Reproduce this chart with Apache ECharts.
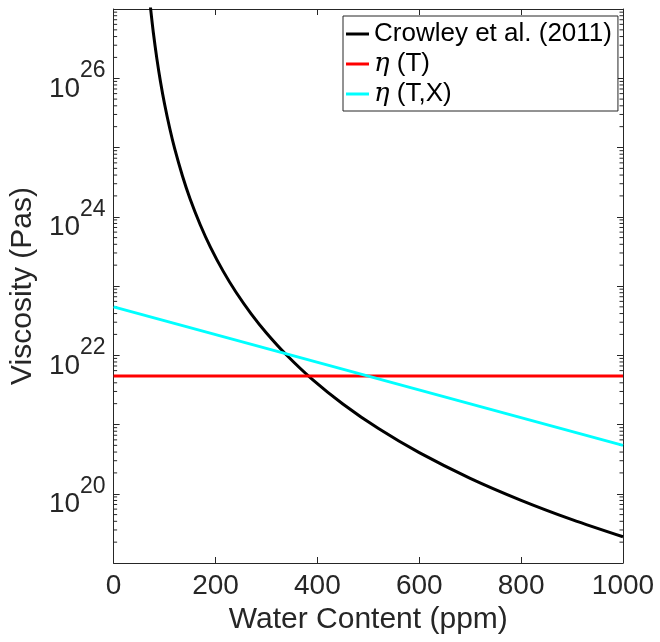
<!DOCTYPE html>
<html>
<head>
<meta charset="utf-8">
<script src="https://cdn.jsdelivr.net/npm/echarts@6/dist/echarts.min.js"></script>
<style>
html,body{margin:0;padding:0;background:#fff;}
#chart{width:660px;height:642px;}
</style>
</head>
<body>
<div id="chart"></div>
<script>
// Water content (ppm) sample positions for the Crowley et al. (2011) curve
var crowleyWater = [72, 78, 85, 92, 100, 110, 120, 135, 150, 170, 190, 215, 240, 270, 300, 340, 390, 450, 520, 600, 700, 800, 900, 1000];
// Viscosity (Pa s)
var crowleyVisc = [1.11e27, 4.54e26, 1.89e26, 8.91e25, 4.24e25, 1.91e25, 9.53e24, 3.91e24, 1.82e24, 7.67e23, 3.65e23, 1.64e23, 8.2e22, 3.97e22, 2.1e22, 1.0e22, 4.49e21, 1.98e21, 8.73e20, 3.92e20, 1.67e20, 8.04e19, 4.23e19, 2.39e19];

var etaTWater = [0, 1000];
var etaTVisc = [5e21, 5e21];

var etaTXWater = [0, 1000];
var etaTXVisc = [5e22, 5e20];

var seriesNames = ['Crowley et al. (2011)', 'η (T)', 'η (T,X)'];
var seriesColors = ['#000000', '#ff0000', '#00ffff'];
var xTicks = [0, 200, 400, 600, 800, 1000];
var yLabelExponents = [20, 22, 24, 26];

var axisColor = '#262626';
var fontFam = '"Liberation Sans", Arial, Helvetica, sans-serif';

// minor tick values on the log axis (2..9 x 10^n)
var minorVals = [];
for (var e = 19; e < 27; e++) {
  for (var k = 2; k <= 9; k++) minorVals.push(k * Math.pow(10, e));
}

function pairs(xs, ys) { return xs.map(function (x, i) { return [x, ys[i]]; }); }

var chart = echarts.init(document.getElementById('chart'), null, {renderer: 'canvas'});

var lineIcon = 'path://M0,0L23,0L23,3L0,3Z';

var option = {
  backgroundColor: '#ffffff',
  animation: false,
  grid: {left: 111, right: 37, top: 9, bottom: 79, containLabel: false},
  legend: {
    data: seriesNames.map(function (n) { return {name: n, icon: lineIcon}; }),
    orient: 'vertical',
    left: 343,
    top: 16,
    width: 274,
    padding: [3, 6, 2, 3],
    itemGap: 0,
    itemWidth: 23,
    itemHeight: 3,
    borderColor: axisColor,
    borderWidth: 1,
    borderRadius: 0,
    backgroundColor: '#ffffff',
    textStyle: {
      fontFamily: fontFam,
      fontSize: 26,
      color: '#000',
      lineHeight: 30,
      rich: {
        i: {fontFamily: '"DejaVu Serif", "Liberation Serif", serif', fontStyle: 'italic', fontSize: 26, lineHeight: 30, color: '#000'},
        t: {fontFamily: fontFam, fontSize: 26, lineHeight: 30, color: '#000'}
      }
    },
    formatter: function (name) {
      if (name.charAt(0) === 'η') return '{i|η}{t|' + name.slice(1) + '}';
      return name;
    }
  },
  xAxis: [{
    type: 'value',
    min: 0, max: 1000, interval: 200,
    name: 'Water Content (ppm)',
    nameLocation: 'middle',
    nameGap: 40,
    nameTextStyle: {fontFamily: fontFam, fontSize: 30, color: axisColor, lineHeight: 30},
    axisLine: {show: true, onZero: false, lineStyle: {color: axisColor, width: 1}},
    axisTick: {show: true, inside: true, length: 6, lineStyle: {color: axisColor}},
    axisLabel: {fontFamily: fontFam, fontSize: 28, color: axisColor, margin: 9, lineHeight: 28,
      formatter: function (v) { return xTicks.indexOf(v) >= 0 ? String(v) : ''; }},
    splitLine: {show: false}
  }, {
    type: 'value', position: 'top',
    min: 0, max: 1000, interval: 200,
    axisLine: {show: true, onZero: false, lineStyle: {color: axisColor, width: 1}},
    axisTick: {show: true, inside: true, length: 6, lineStyle: {color: axisColor}},
    axisLabel: {show: false},
    splitLine: {show: false}
  }],
  yAxis: [{
    type: 'log', logBase: 10,
    min: 1e19, max: 1e27, interval: 1,
    name: 'Viscosity (Pas)',
    nameLocation: 'middle',
    nameGap: 73,
    nameRotate: 90,
    nameTextStyle: {fontFamily: fontFam, fontSize: 30, color: axisColor, lineHeight: 30},
    axisLine: {show: true, onZero: false, lineStyle: {color: axisColor, width: 1}},
    axisTick: {show: true, inside: true, length: 6, lineStyle: {color: axisColor}},
    axisLabel: {
      margin: 8,
      padding: [6, 0, 0, 0],
      formatter: function (v) {
        var ex = Math.round(Math.log(v) / Math.LN10);
        if (yLabelExponents.indexOf(ex) < 0) return '';
        return '{b|10}{s|' + ex + '}';
      },
      rich: {
        b: {fontFamily: fontFam, fontSize: 28, color: axisColor, lineHeight: 44, verticalAlign: 'bottom'},
        s: {fontFamily: fontFam, fontSize: 23, color: axisColor, lineHeight: 23, verticalAlign: 'top'}
      }
    },
    splitLine: {show: false}
  }, {
    type: 'log', logBase: 10, position: 'right',
    min: 1e19, max: 1e27, interval: 1,
    axisLine: {show: true, onZero: false, lineStyle: {color: axisColor, width: 1}},
    axisTick: {show: true, inside: true, length: 6, lineStyle: {color: axisColor}},
    axisLabel: {show: false},
    splitLine: {show: false}
  }],
  series: [
    {
      name: seriesNames[0], type: 'line', xAxisIndex: 0, yAxisIndex: 0,
      data: pairs(crowleyWater, crowleyVisc),
      symbol: 'none', smooth: 0.3, clip: true,
      lineStyle: {color: seriesColors[0], width: 3},
      itemStyle: {color: seriesColors[0]}
    },
    {
      name: seriesNames[1], type: 'line', xAxisIndex: 0, yAxisIndex: 0,
      data: pairs(etaTWater, etaTVisc),
      symbol: 'none',
      lineStyle: {color: seriesColors[1], width: 3},
      itemStyle: {color: seriesColors[1]}
    },
    {
      name: seriesNames[2], type: 'line', xAxisIndex: 0, yAxisIndex: 0,
      data: pairs(etaTXWater, etaTXVisc),
      symbol: 'none',
      lineStyle: {color: seriesColors[2], width: 3},
      itemStyle: {color: seriesColors[2]}
    },
    {
      type: 'custom', xAxisIndex: 0, yAxisIndex: 0, silent: true, clip: false,
      data: minorVals.map(function (v) { return [0, v]; }),
      renderItem: function (params, api) {
        var v = api.value(1);
        var pl = api.coord([0, v]);
        var pr = api.coord([1000, v]);
        return {
          type: 'group',
          children: [
            {type: 'line', shape: {x1: pl[0], y1: pl[1], x2: pl[0] + 3.5, y2: pl[1]}, style: {stroke: axisColor, lineWidth: 1}},
            {type: 'line', shape: {x1: pr[0], y1: pr[1], x2: pr[0] - 3.5, y2: pr[1]}, style: {stroke: axisColor, lineWidth: 1}}
          ]
        };
      }
    }
  ]
};
chart.setOption(option);
</script>
</body>
</html>
